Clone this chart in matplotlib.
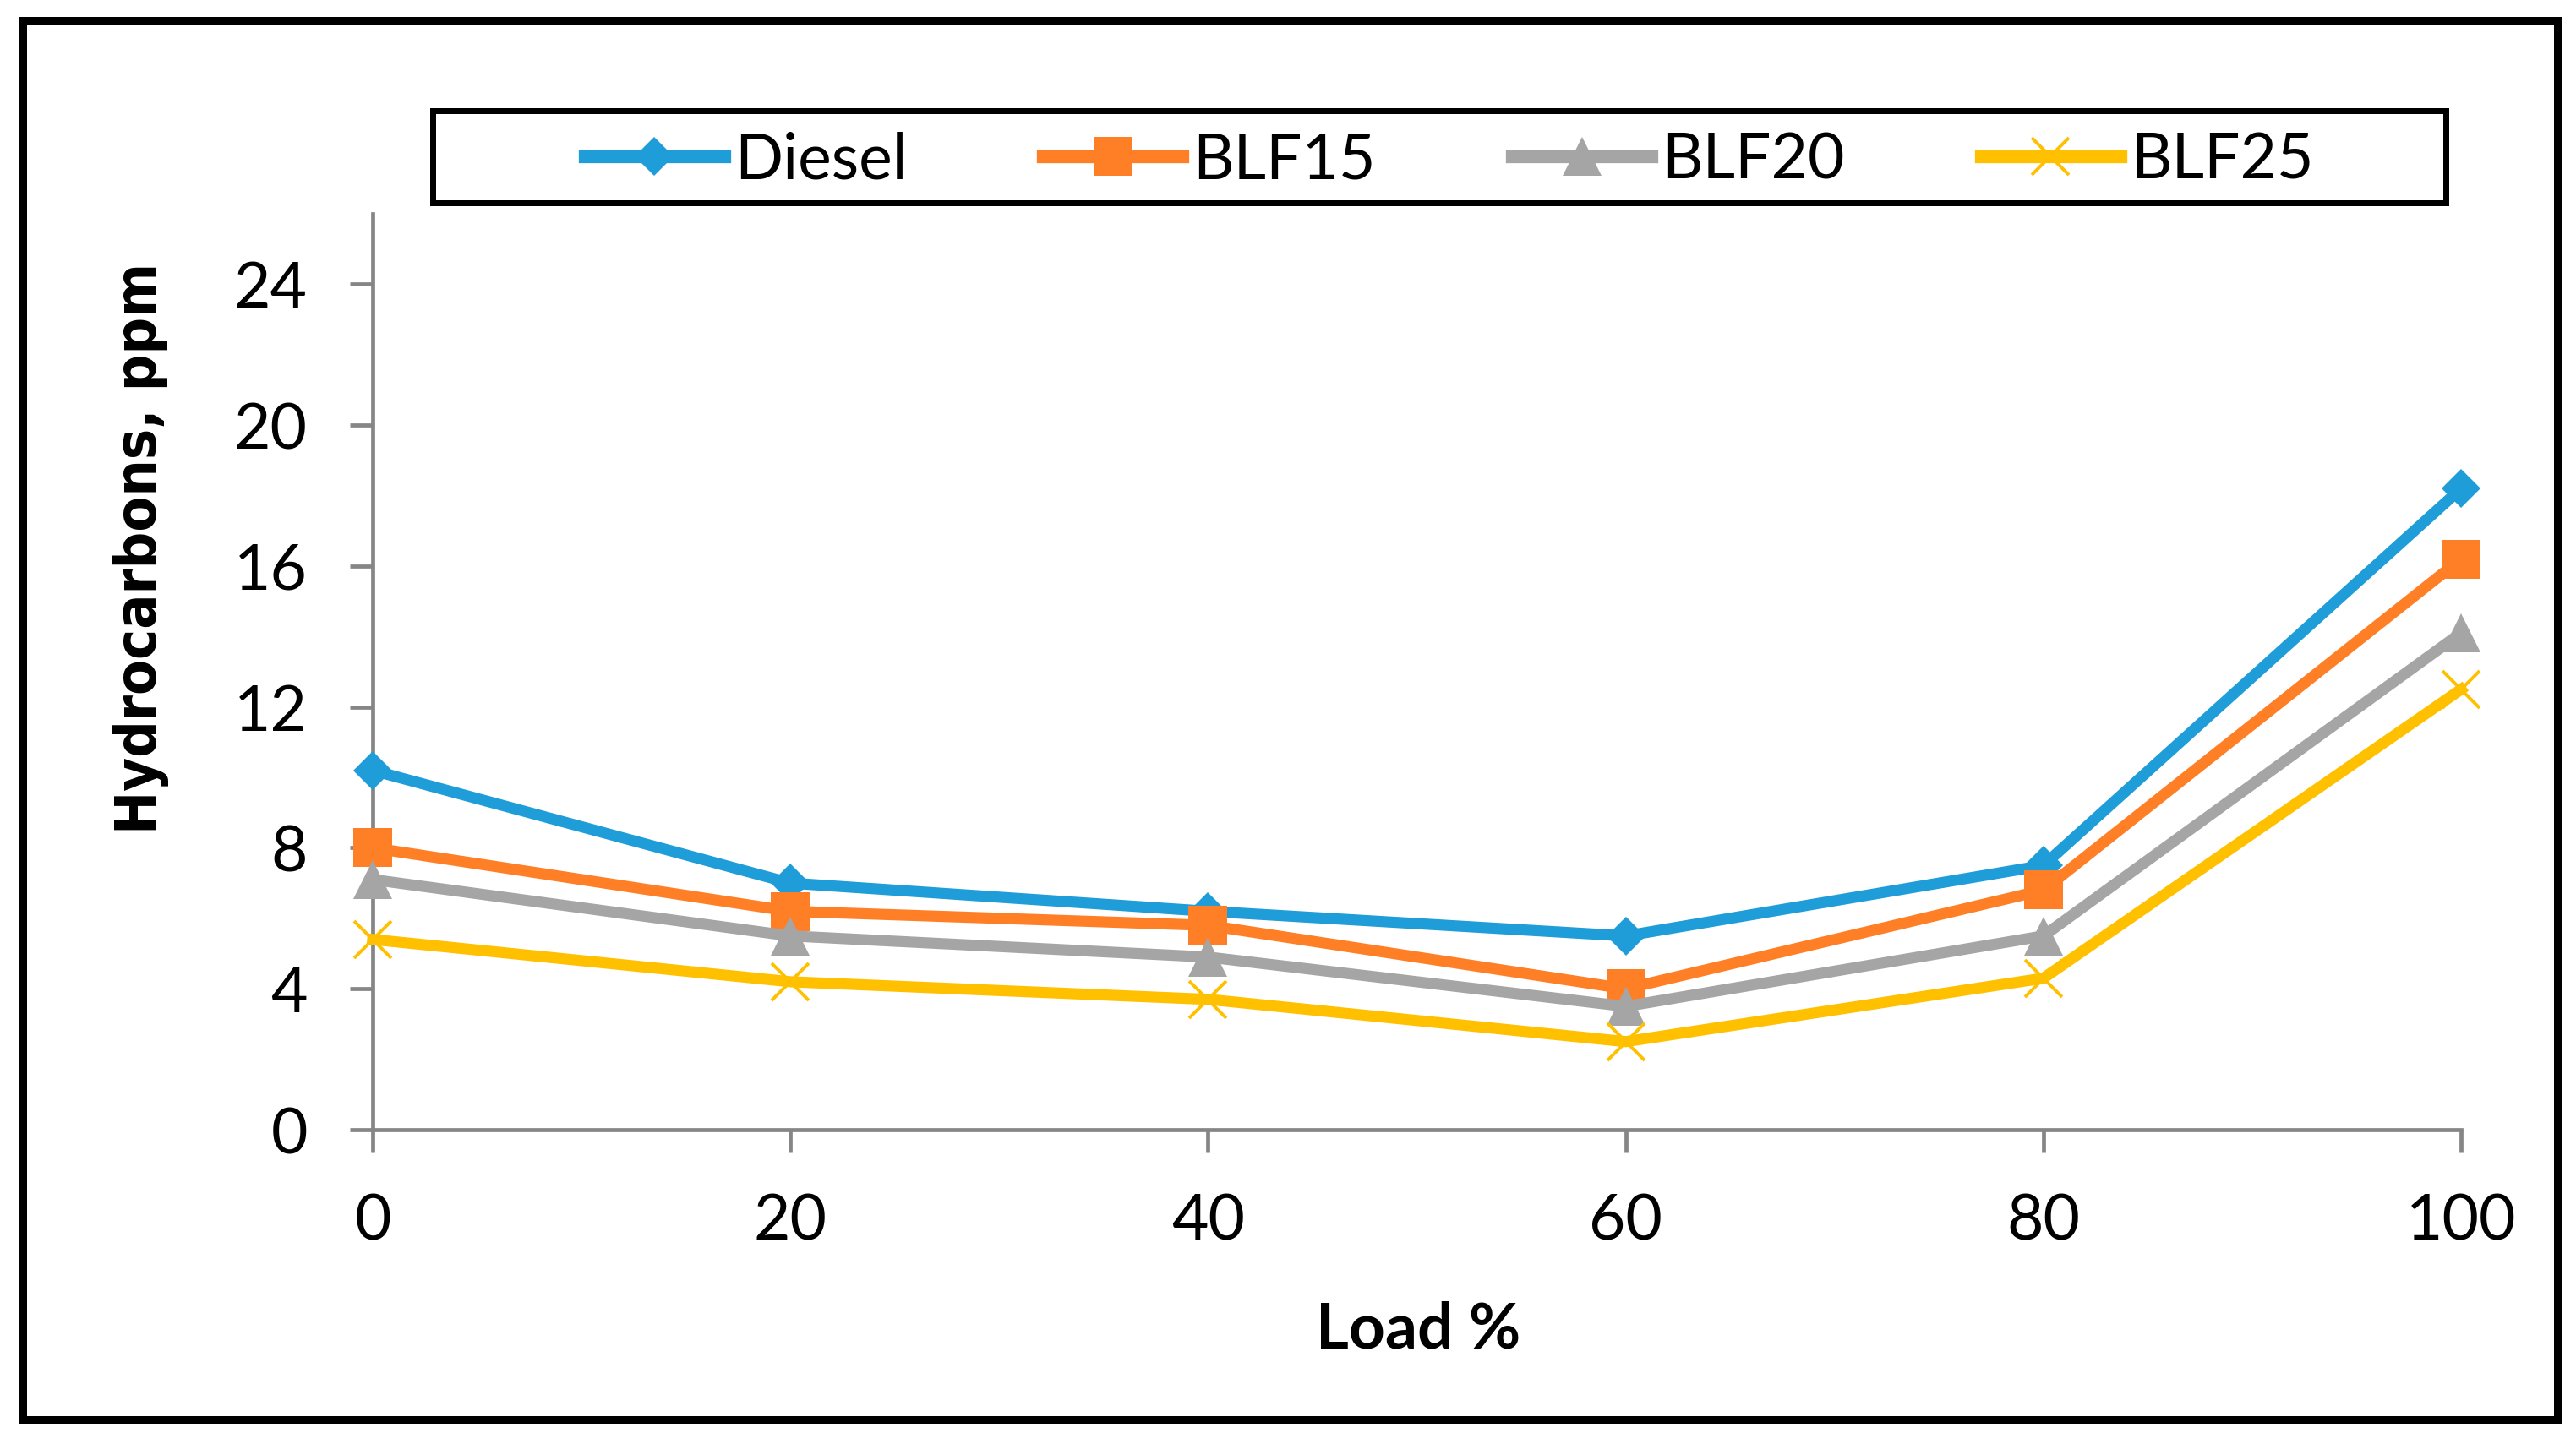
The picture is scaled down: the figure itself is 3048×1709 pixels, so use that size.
import matplotlib
matplotlib.use("Agg")
import matplotlib.pyplot as plt
from matplotlib.patches import Rectangle

# ---- data ----
load = [0, 20, 40, 60, 80, 100]
diesel = [10.2, 7.0, 6.2, 5.5, 7.5, 18.2]
blf15 = [8.0, 6.2, 5.8, 4.0, 6.8, 16.2]
blf20 = [7.1, 5.5, 4.9, 3.5, 5.5, 14.1]
blf25 = [5.4, 4.2, 3.7, 2.5, 4.3, 12.5]
series_names = ["Diesel", "BLF15", "BLF20", "BLF25"]
x_ticks = [0, 20, 40, 60, 80, 100]
y_ticks = [0, 4, 8, 12, 16, 20, 24]

colors = ["#1E9DD8", "#FF7F27", "#A5A5A5", "#FFC000"]
markers = ["D", "s", "^", "x"]
msizes = [23.5, 33, 33, 32]

plt.rcParams['font.family'] = ['Lato', 'DejaVu Sans']

fig = plt.figure(figsize=(30.48, 17.09), dpi=100)
ax = fig.add_axes([441 / 3048, 1 - 1337 / 1709, 2471 / 3048, 1084 / 1709])

handles = []
for vals, name, c, m, ms in zip([diesel, blf15, blf20, blf25], series_names, colors, markers, msizes):
    mew = 2.8 if m == "x" else 0
    ln, = ax.plot(load, vals, color=c, lw=9.5, marker=m, markersize=ms,
                  markeredgewidth=mew, clip_on=False, label=name, zorder=3)
    handles.append(ln)

ax.set_xlim(0, 100)
ax.set_ylim(0, 26)
ax.set_xticks(x_ticks)
ax.set_yticks(y_ticks)
ax.set_xticklabels([str(v) for v in x_ticks])
ax.set_yticklabels([str(v) for v in y_ticks])

for s in ["top", "right"]:
    ax.spines[s].set_visible(False)
for s in ["left", "bottom"]:
    ax.spines[s].set_color("#868686")
    ax.spines[s].set_linewidth(3.4)
ax.tick_params(axis="both", direction="out", length=19.5, width=3.4, color="#868686",
               labelsize=54, labelcolor="black")
ax.tick_params(axis="y", pad=36)
ax.tick_params(axis="x", pad=34)

# axis titles
fig.text(0.0545, 0.620, "Hydrocarbons, ppm", rotation=90, ha="center", va="center",
         fontsize=49, fontweight="bold", family=["DejaVu Sans"], fontstretch="condensed")
fig.text(1678 / 3048, 1 - 1596 / 1709, "Load %", ha="center", va="baseline",
         fontsize=54, fontweight="bold")

# legend
leg = fig.legend(handles, series_names, loc="center", bbox_to_anchor=(0.5625, 0.889),
                 ncol=4, frameon=False, handlelength=2.2, handletextpad=0.16,
                 columnspacing=2.15, fontsize=54, numpoints=1)
for lh in leg.get_lines():
    lh.set_linewidth(11)
fig.add_artist(Rectangle((511.5 / 3048, 1 - 239.5 / 1709),
                         (2893.5 - 511.5) / 3048, (239.5 - 130.5) / 1709,
                         transform=fig.transFigure, fill=False, edgecolor="black",
                         linewidth=5.04, joinstyle="miter"))

# outer border
fig.add_artist(Rectangle((26.5 / 3048, 1 - 1679.5 / 1709),
                         (3025.5 - 26.5) / 3048, (1679.5 - 23.5) / 1709,
                         transform=fig.transFigure, fill=False, edgecolor="black",
                         linewidth=6.48, joinstyle="miter"))

fig.savefig("out.png", dpi=100, facecolor="white")
